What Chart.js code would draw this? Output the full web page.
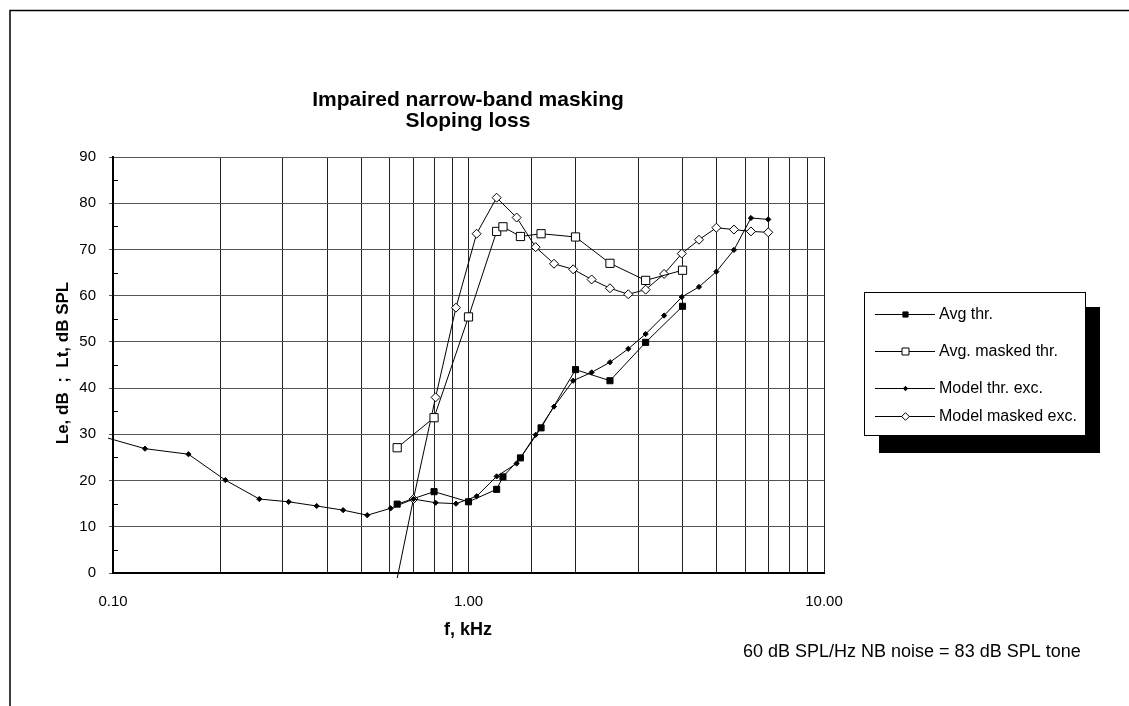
<!DOCTYPE html>
<html>
<head>
<meta charset="utf-8">
<script src="https://cdn.jsdelivr.net/npm/chart.js@4.4.1/dist/chart.umd.min.js"></script>
<style>
  html, body { margin: 0; padding: 0; background: #fff; }
  #wrap { position: relative; width: 1129px; height: 706px; }
</style>
</head>
<body>
<div id="wrap"><canvas id="chart"></canvas></div>
<script>
// measured points: frequency in kHz, level in dB
const avgFreq = [0.63, 0.8, 1.0, 1.2, 1.25, 1.4, 1.6, 2.0, 2.5, 3.15, 4.0];
const avgThr = [14.9, 17.6, 15.4, 18.1, 20.8, 24.9, 31.4, 44.0, 41.6, 49.9, 57.7];
const avgMaskedThr = [27.1, 33.6, 55.4, 73.9, 74.9, 72.8, 73.4, 72.7, 67.0, 63.3, 65.5];

// model curves
const modelThrFreq = [0.08, 0.123, 0.163, 0.207, 0.258, 0.312, 0.374, 0.444, 0.519, 0.604, 0.7, 0.808, 0.922,
    1.054, 1.2, 1.366, 1.545, 1.74, 1.97, 2.22, 2.5, 2.815, 3.15, 3.55, 3.98, 4.45, 4.98, 5.58, 6.23, 6.97];
const modelThr = [31.0, 26.9, 25.7, 20.1, 16.0, 15.4, 14.5, 13.6, 12.5, 14.0, 16.0, 15.2, 15.0,
    16.6, 20.9, 23.7, 29.9, 36.0, 41.6, 43.4, 45.6, 48.5, 51.7, 55.7, 59.7, 61.9, 65.2, 69.9, 76.8, 76.5];
const modelMaskedFreq = [0.604, 0.7, 0.808, 0.922, 1.054, 1.2, 1.366, 1.545, 1.74, 1.97, 2.22, 2.5, 2.815,
    3.15, 3.55, 3.98, 4.45, 4.98, 5.58, 6.23, 6.97];
const modelMasked = [-8.0, 16.0, 38.0, 57.4, 73.4, 81.2, 76.9, 70.5, 66.9, 65.7, 63.5, 61.6, 60.3,
    61.3, 64.7, 69.1, 72.1, 74.7, 74.3, 73.9, 73.7];

const yTicks = [0, 10, 20, 30, 40, 50, 60, 70, 80, 90];
const xLabels = ['0.10', '1.00', '10.00'];

const FONT = '"Liberation Sans", Arial, sans-serif';

function pts(xs, ys) {
    return xs.map((x, i) => ({ x: x, y: ys[i] }));
}

const series = [
    { label: 'Avg thr.', data: pts(avgFreq, avgThr), pointStyle: 'rect', radius: 4.3, fill: '#000' },
    { label: 'Avg. masked thr.', data: pts(avgFreq, avgMaskedThr), pointStyle: 'rect', radius: 5.8, fill: '#fff' },
    { label: 'Model thr. exc.', data: pts(modelThrFreq, modelThr), pointStyle: 'rectRot', radius: 2.6, fill: '#000' },
    { label: 'Model masked exc.', data: pts(modelMaskedFreq, modelMasked), pointStyle: 'rectRot', radius: 4.5, fill: '#fff' }
];

// frame, titles, minor ticks, legend box with shadow
const decorations = {
    id: 'decorations',
    beforeDraw(chart) {
        const ctx = chart.ctx;
        ctx.save();
        ctx.strokeStyle = '#000';
        ctx.lineWidth = 1.5;
        ctx.beginPath();
        ctx.moveTo(10, 706);
        ctx.lineTo(10, 10.5);
        ctx.lineTo(1129, 10.5);
        ctx.stroke();
        ctx.restore();
    },
    afterDraw(chart) {
        const ctx = chart.ctx;
        const y = chart.scales.y;
        const area = chart.chartArea;
        ctx.save();

        // minor ticks inside the y axis
        ctx.strokeStyle = '#000';
        ctx.lineWidth = 1;
        for (let v = 5; v < 90; v += 10) {
            const py = Math.round(y.getPixelForValue(v)) + 0.5;
            ctx.beginPath();
            ctx.moveTo(area.left, py);
            ctx.lineTo(area.left + 5, py);
            ctx.stroke();
        }

        ctx.fillStyle = '#000';
        ctx.textAlign = 'center';
        ctx.textBaseline = 'middle';
        ctx.font = 'bold 21px ' + FONT;
        ctx.fillText('Impaired narrow-band masking', 468, 100);
        ctx.fillText('Sloping loss', 468, 121);

        ctx.font = 'bold 18px ' + FONT;
        ctx.fillText('f, kHz', 468, 630);

        ctx.save();
        ctx.translate(63, 363);
        ctx.rotate(-Math.PI / 2);
        ctx.font = 'bold 17px ' + FONT;
        ctx.fillText('Le, dB  ;  Lt, dB SPL', 0, 0);
        ctx.restore();

        ctx.font = '18px ' + FONT;
        ctx.textAlign = 'left';
        ctx.fillText('60 dB SPL/Hz NB noise = 83 dB SPL tone', 743, 652);

        // legend
        ctx.fillStyle = '#000';
        ctx.fillRect(879, 307, 221, 146);
        ctx.fillStyle = '#fff';
        ctx.fillRect(864, 292, 222, 144);
        ctx.strokeStyle = '#000';
        ctx.lineWidth = 1;
        ctx.strokeRect(864.5, 292.5, 221, 143);

        const rows = [314, 351, 388, 416];
        ctx.font = '16px ' + FONT;
        chart.data.datasets.forEach((ds, i) => {
            const ry = rows[i] + 0.5;
            ctx.strokeStyle = '#000';
            ctx.lineWidth = 1;
            ctx.beginPath();
            ctx.moveTo(875, ry);
            ctx.lineTo(935, ry);
            ctx.stroke();
            ctx.fillStyle = ds.pointBackgroundColor;
            Chart.helpers.drawPoint(ctx, {
                pointStyle: ds.pointStyle, radius: ds.pointRadius * 0.85, rotation: 0, borderWidth: 1
            }, 905.5, ry);
            ctx.fillStyle = '#000';
            ctx.textAlign = 'left';
            ctx.fillText(ds.label, 939, ry);
        });

        ctx.restore();
    }
};

new Chart(document.getElementById('chart'), {
    type: 'line',
    data: {
        datasets: series.map(s => ({
            label: s.label,
            data: s.data,
            borderColor: '#000',
            borderWidth: 1,
            pointStyle: s.pointStyle,
            pointRadius: s.radius,
            pointBackgroundColor: s.fill,
            pointBorderColor: '#000',
            pointBorderWidth: 1,
            tension: 0,
            clip: 5
        }))
    },
    options: {
        responsive: true,
        maintainAspectRatio: false,
        animation: false,
        devicePixelRatio: 1,
        layout: { padding: { left: 0, top: 157, right: 305, bottom: 0 } },
        plugins: {
            legend: { display: false },
            tooltip: { enabled: false }
        },
        scales: {
            x: {
                type: 'logarithmic',
                min: 0.1,
                max: 10,
                grid: { color: '#222', lineWidth: 1, drawTicks: false },
                border: { color: '#000', width: 2 },
                ticks: {
                    autoSkip: false,
                    maxRotation: 0,
                    padding: 20,
                    color: '#000',
                    font: { family: FONT, size: 15 },
                    callback: function (v) {
                        const e = Math.log10(v);
                        if (Math.abs(e - Math.round(e)) < 1e-6) {
                            return xLabels[Math.round(e) + 1];
                        }
                        return '';
                    }
                },
                afterFit: function (s) { s.height = 133; }
            },
            y: {
                min: 0,
                max: 90,
                afterBuildTicks: function (s) { s.ticks = yTicks.map(v => ({ value: v })); },
                grid: { color: '#555', lineWidth: 1, tickLength: 4 },
                border: { color: '#000', width: 2 },
                ticks: {
                    padding: 13,
                    color: '#000',
                    font: { family: FONT, size: 15 }
                },
                afterFit: function (s) { s.width = 113; }
            }
        }
    },
    plugins: [decorations]
});
</script>
</body>
</html>
